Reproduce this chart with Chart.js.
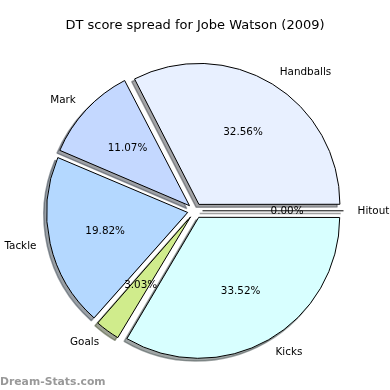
<!DOCTYPE html>
<html><head><meta charset="utf-8">
<script src="https://cdn.jsdelivr.net/npm/chart.js@4/dist/chart.umd.min.js"></script>
<style>html,body{margin:0;padding:0;background:#fff}#wrap{width:390px;height:390px}</style>
</head><body><div id="wrap"><canvas id="c" width="390" height="390"></canvas></div>
<script>
// Clockwise from east (Chart.js order); matplotlib drew them counter-clockwise.
const categories = ['Kicks', 'Goals', 'Tackle', 'Mark', 'Handballs', 'Hitout'];
const percentages = [33.52, 3.03, 19.82, 11.07, 32.56, 0.00];
const sliceColors = ['#d8ffff', '#d0ec8c', '#b4d8ff', '#c4d8ff', '#e8f0ff', '#e0e0e0'];
const chartTitle = 'DT score spread for Jobe Watson (2009)';
const watermark = 'Dream-Stats.com';

const FONT = "'DejaVu Sans', sans-serif";
const RADIUS = 141, OFFSET = 30, SH_X = -2.8, SH_Y = 2.8;

function shadowColor(hex) {
  const n = parseInt(hex.slice(1), 16);
  const r = (n >> 16) & 255, g = (n >> 8) & 255, b = n & 255;
  return 'rgba(' + Math.round(r * .3) + ',' + Math.round(g * .3) + ',' + Math.round(b * .3) + ',0.5)';
}

const piePlugin = {
  id: 'piePlugin',
  afterDatasetsUpdate(chart) {
    const meta = chart.getDatasetMeta(0);
    meta.data.forEach(el => {
      const off = (el.options.offset || 0) / 4;
      if (!el.circumference) return;
      const fix = 1 - Math.sin(Math.min(Math.PI, el.circumference));
      el.outerRadius = el.outerRadius - off * fix;
    });
  },
  beforeDatasetsDraw(chart) {
    const ctx = chart.ctx, meta = chart.getDatasetMeta(0);
    const R = meta.controller.outerRadius;
    ctx.save();
    ctx.translate(SH_X, SH_Y);
    meta.data.forEach((el, i) => {
      const c = shadowColor(sliceColors[i]);
      if (!el.circumference) {
        const a = el.startAngle, off = (el.options.offset || 0) / 4;
        const cx = el.x + Math.cos(a) * off, cy = el.y + Math.sin(a) * off;
        ctx.strokeStyle = c; ctx.lineWidth = 1.5;
        ctx.beginPath(); ctx.moveTo(cx, cy); ctx.lineTo(cx + Math.cos(a) * R, cy + Math.sin(a) * R); ctx.stroke();
      } else {
        const p = Object.create(el);
        p.options = Object.assign({}, el.options, { backgroundColor: c, borderColor: c, borderWidth: 1.5 });
        p.draw(ctx);
      }
    });
    ctx.restore();
  },
  afterDatasetsDraw(chart) {
    const ctx = chart.ctx, meta = chart.getDatasetMeta(0);
    const R = meta.controller.outerRadius;
    const total = percentages.reduce((s, v) => s + v, 0);
    ctx.save();
    meta.data.forEach((el, i) => {
      const a = (el.startAngle + el.endAngle) / 2, off = (el.options.offset || 0) / 4;
      const cx = el.x + Math.cos(a) * off, cy = el.y + Math.sin(a) * off;
      if (!el.circumference) {
        ctx.strokeStyle = '#000'; ctx.lineWidth = 1;
        ctx.beginPath(); ctx.moveTo(cx, cy); ctx.lineTo(cx + Math.cos(a) * R, cy + Math.sin(a) * R); ctx.stroke();
      }
      ctx.fillStyle = '#000';
      ctx.font = '10.4px ' + FONT;
      ctx.textBaseline = 'middle';
      ctx.textAlign = 'center';
      const pct = (percentages[i] / total * 100).toFixed(2) + '%';
      ctx.fillText(pct, cx + Math.cos(a) * R * 0.6, cy + Math.sin(a) * R * 0.6);
      const lx = cx + Math.cos(a) * R * 1.1, ly = cy + Math.sin(a) * R * 1.1;
      ctx.textAlign = Math.cos(a) > 1e-9 ? 'left' : 'right';
      ctx.fillText(categories[i], lx, ly);
    });
    ctx.restore();
  },
  afterDraw(chart) {
    const ctx = chart.ctx;
    ctx.save();
    ctx.font = 'bold 10.8px ' + FONT;
    ctx.fillStyle = '#999999';
    ctx.textAlign = 'left';
    ctx.textBaseline = 'alphabetic';
    ctx.fillText(watermark, 0, 385);
    ctx.restore();
  }
};

new Chart(document.getElementById('c'), {
  type: 'pie',
  data: {
    labels: categories,
    datasets: [{
      data: percentages,
      backgroundColor: sliceColors,
      borderColor: '#000000',
      borderWidth: 1,
      offset: OFFSET
    }]
  },
  options: {
    responsive: false,
    animation: false,
    devicePixelRatio: 1,
    rotation: 90,
    radius: RADIUS,
    layout: { padding: { top: 0, bottom: 2, left: 0, right: 0 } },
    plugins: {
      legend: { display: false },
      tooltip: { enabled: false },
      title: {
        display: true, text: chartTitle, color: '#000',
        font: { family: FONT, size: 13, weight: 'normal', lineHeight: 1.2 },
        padding: { top: 18, bottom: 0 }
      }
    }
  },
  plugins: [piePlugin]
});
</script></body></html>
